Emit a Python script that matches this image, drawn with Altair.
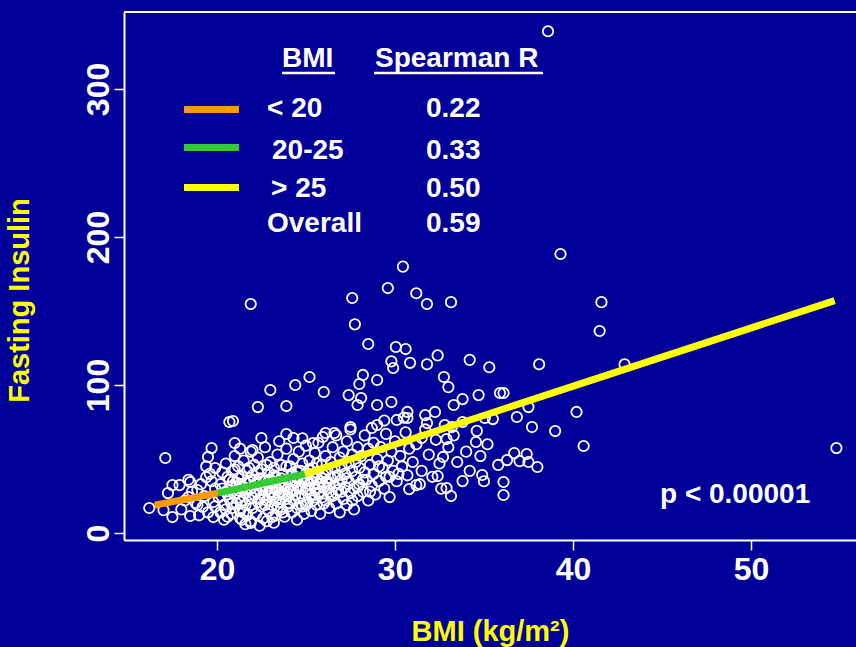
import altair as alt
import pandas as pd

# ---- data (BMI, fasting insulin) ----
outer_points = [
    (38.6, 339), (39.3, 188.5), (30.45, 180), (29.6, 165.5), (31.2, 162), (31.8, 154.7),
    (33.15, 156), (21.9, 154.7), (27.6, 158.8), (27.75, 141), (41.6, 156), (41.5, 136.5),
    (42.9, 114), (28.5, 127.7), (30.05, 125.7), (30.6, 124.3), (29.8, 116), (29.9, 111.5),
    (30.85, 115), (31.8, 114), (32.4, 120), (34.2, 117), (35.3, 112), (38.1, 114),
    (28.2, 106.8), (28.0, 100.7), (29.0, 103.4), (32.75, 105.4), (33.0, 98.6), (25.2, 105.4),
    (24.4, 100), (23.0, 96.6), (26.0, 95.3), (23.9, 85.8), (22.3, 85.1), (27.4, 93.2),
    (28.1, 91.2), (27.9, 86.5), (29.0, 86.5), (29.8, 88.5), (30.7, 81.8), (30.1, 76.4),
    (30.7, 77.7), (31.7, 79.7), (31.8, 74.3), (32.25, 81.8), (33.3, 86.5), (33.8, 90.5),
    (34.7, 93.2), (35.9, 94.6), (36.1, 94.6), (35.05, 77.7), (36.85, 78.4), (37.5, 85.1),
    (37.7, 71.6), (39.0, 68.9), (40.2, 81.8), (40.6, 58.8), (34.55, 61.5), (36.7, 54),
    (36.3, 49.3), (37.0, 48.6), (37.4, 53.4), (37.5, 48), (38.0, 44.6), (34.9, 39.2),
    (36.1, 34.5), (36.1, 25.7), (54.8, 57.4), (33.8, 35.1), (32.4, 38.5), (32.9, 30.4),
    (33.15, 25), (31.2, 32.4), (30.8, 29.7), (29.7, 24.3), (32.7, 51.4), (33.2, 71.6),
    (32.9, 63.5), (27.5, 71.6), (28.7, 71), (26.1, 67.6), (26.6, 67.6), (31.5, 64.2),
    (20.7, 75), (20.9, 75.7), (17.1, 50.7), (21.0, 60.8), (19.7, 57.4), (19.5, 51.4),
    (22.5, 64.2), (23.9, 66.9), (24.3, 64.2), (22.0, 56), (25.95, 64.9), (25.4, 60.8),
    (16.2, 16.9), (17.5, 10.8), (17.0, 15.5), (18.5, 11.5), (19.8, 10.8), (23.1, 10.8),
    (21.3, 10.1), (21.9, 6.8), (17.5, 32.4), (17.9, 32.4), (17.25, 27), (18.5, 34.5),
    (18.4, 24.3), (18.9, 29), (18.8, 20.3), (19.2, 17.6), (19.4, 37.8), (19.9, 43.9),
]

cluster_points = [
    (18.2, 22), (18.6, 28), (18.9, 19), (19.1, 33), (19.3, 25), (19.5, 14), (19.6, 40),
    (19.8, 21), (19.9, 30), (18.0, 16), (18.4, 36), (19.0, 12), (19.4, 45), (19.7, 35),
    (19.9, 18), (20.1, 24), (20.2, 33), (20.2, 14), (20.3, 41), (20.4, 19), (20.5, 28),
    (20.5, 47), (20.6, 11), (20.7, 23), (20.7, 36), (20.8, 31), (20.9, 17), (20.9, 42),
    (21.0, 26), (21.0, 52), (20.4, 9), (20.6, 38), (20.8, 13), (21.1, 20), (21.1, 34),
    (21.2, 29), (21.2, 45), (21.3, 15), (21.3, 24), (21.4, 38), (21.4, 9), (21.5, 31),
    (21.5, 49), (21.6, 19), (21.6, 27), (21.7, 42), (21.7, 12), (21.8, 35), (21.8, 23),
    (21.9, 30), (21.9, 55), (22.0, 17), (22.0, 39), (21.3, 57), (21.6, 6), (21.9, 8),
    (22.1, 26), (22.1, 46), (22.2, 33), (22.2, 13), (22.3, 21), (22.3, 51), (22.4, 29),
    (22.4, 37), (22.5, 18), (22.5, 43), (22.6, 25), (22.6, 10), (22.7, 35), (22.7, 58),
    (22.8, 22), (22.8, 30), (22.9, 41), (22.9, 15), (23.0, 27), (23.0, 48), (22.4, 5),
    (22.8, 8), (23.0, 36), (23.1, 19), (23.1, 33), (23.2, 44), (23.2, 24), (23.3, 12),
    (23.3, 38), (23.4, 29), (23.4, 53), (23.5, 21), (23.5, 34), (23.6, 16), (23.6, 46),
    (23.7, 27), (23.7, 40), (23.8, 31), (23.8, 11), (23.9, 23), (23.9, 57), (24.0, 36),
    (24.0, 18), (23.5, 62), (23.2, 7), (24.1, 28), (24.1, 45), (24.2, 14), (24.2, 33),
    (24.3, 22), (24.3, 50), (24.4, 38), (24.4, 26), (24.5, 17), (24.5, 42), (24.6, 31),
    (24.6, 55), (24.7, 20), (24.7, 36), (24.8, 47), (24.8, 25), (24.9, 13), (24.9, 34),
    (25.0, 29), (25.0, 59), (24.5, 9), (24.8, 64), (25.1, 21), (25.1, 40), (25.2, 33),
    (25.2, 49), (25.3, 26), (25.3, 15), (25.4, 44), (25.4, 37), (25.5, 30), (25.5, 54),
    (25.6, 19), (25.6, 41), (25.7, 27), (25.7, 61), (25.8, 35), (25.8, 13), (25.9, 46),
    (25.9, 24), (26.0, 39), (26.0, 31), (26.1, 52), (26.1, 22), (26.2, 35), (26.2, 43),
    (26.3, 28), (26.3, 17), (26.4, 48), (26.4, 37), (26.5, 58), (26.5, 25), (26.6, 32),
    (26.6, 44), (26.7, 20), (26.7, 66), (26.8, 39), (26.8, 29), (26.9, 51), (26.9, 14),
    (27.0, 36), (27.0, 45), (27.1, 23), (27.1, 55), (27.2, 40), (27.2, 31), (27.3, 62),
    (27.3, 19), (27.4, 47), (27.4, 35), (27.5, 27), (27.5, 70), (27.6, 42), (27.6, 53),
    (27.7, 30), (27.7, 16), (27.8, 48), (27.8, 38), (27.9, 58), (27.9, 25), (28.0, 44),
    (28.0, 33), (28.1, 52), (28.2, 28), (28.3, 41), (28.3, 66), (28.4, 36), (28.5, 22),
    (28.5, 57), (28.6, 46), (28.7, 32), (28.8, 61), (28.8, 40), (28.9, 26), (29.0, 50),
    (29.0, 73), (29.1, 35), (29.2, 58), (29.3, 44), (29.4, 30), (29.5, 67), (29.6, 49),
    (29.7, 38), (29.8, 55), (29.9, 42), (30.0, 62), (29.4, 76), (30.1, 35), (30.3, 52),
    (30.4, 45), (30.6, 68), (30.7, 39), (30.8, 57), (31.0, 48), (30.5, 78), (31.2, 60),
    (31.5, 42), (31.7, 70), (31.9, 53), (32.1, 38), (32.3, 63), (32.5, 47), (32.8, 73),
    (33.0, 58), (31.4, 33), (32.6, 30), (33.3, 66), (33.5, 48), (33.8, 75), (34.0, 55),
    (34.2, 42), (34.6, 69), (34.8, 52), (35.2, 60), (35.5, 77), (35.0, 35), (35.8, 46),
]

core_points = [
    (20.3, 30), (20.6, 26), (20.9, 35), (21.1, 27), (21.4, 22), (21.7, 30), (21.9, 19),
    (22.1, 36), (22.2, 28), (22.5, 32), (22.7, 19), (22.9, 35), (23.1, 28), (23.3, 31),
    (23.4, 17), (23.6, 37), (23.8, 26), (24.0, 30), (24.2, 40), (24.3, 29), (24.6, 24),
    (24.7, 42), (24.9, 38), (25.1, 30), (25.3, 35), (25.5, 24), (25.6, 37), (25.8, 28),
    (26.0, 20), (26.2, 30), (26.4, 26), (26.6, 38), (26.9, 33), (21.2, 37), (21.5, 14),
    (21.8, 44), (22.0, 24), (22.3, 41), (22.6, 37), (22.8, 46), (23.2, 39), (23.5, 26),
    (23.7, 14), (23.9, 45), (24.1, 20), (24.4, 34), (24.7, 30), (25.0, 19), (25.2, 43),
    (25.4, 22), (25.7, 33), (25.9, 37), (20.5, 16), (20.8, 20), (21.0, 43), (21.3, 33),
    (21.6, 34), (22.4, 23), (22.9, 25), (23.3, 22), (23.6, 32), (24.0, 25), (24.5, 37),
    (24.8, 18), (25.1, 36), (25.6, 47), (26.1, 41), (26.3, 33), (26.7, 27), (27.0, 28),
    (27.3, 37), (27.6, 22), (27.9, 31), (28.2, 36), (28.6, 28), (29.1, 45), (29.5, 38),
    (30.2, 40),
]

# fitted piecewise line (BMI groups)
fit_bmi = [16.5, 20.05, 20.05, 24.95, 24.95, 54.7]
fit_ins = [18.9, 27.0, 27.0, 39.9, 39.9, 157.0]
fit_group = ["< 20", "< 20", "20-25", "20-25", "> 25", "> 25"]
group_names = ["< 20", "20-25", "> 25"]
group_colors = ["#FF9900", "#33CC33", "#FFFF00"]
row_labels = ["< 20", "20-25", "> 25", "Overall"]
spearman_r = ["0.22", "0.33", "0.50", "0.59"]

x_ticks = [20, 30, 40, 50]
y_ticks = [0, 100, 200, 300]

BG = "#000099"
FONT = "Liberation Sans"
W, H = 732, 528

all_pts = outer_points + cluster_points + core_points
pts = pd.DataFrame(all_pts, columns=["bmi", "insulin"])
fit = pd.DataFrame({"bmi": fit_bmi, "insulin": fit_ins, "grp": fit_group,
                    "ord": list(range(len(fit_bmi)))})

xscale = alt.Scale(domain=[14.78, 55.9], nice=False, zero=False)
yscale = alt.Scale(domain=[-4.7, 352], nice=False, zero=False)

xaxis = alt.Axis(values=x_ticks, title="BMI (kg/m²)", grid=False,
                 tickSize=10, tickWidth=1.5, tickColor="white",
                 domainColor="white", domainWidth=2,
                 labelColor="white", labelFontSize=32, labelFontWeight="bold",
                 labelFont=FONT, labelPadding=4,
                 titleColor="#FFFF00", titleFontSize=29, titleFontWeight="bold",
                 titleFont=FONT, titleY=100, titleBaseline="alphabetic")
yaxis = alt.Axis(values=y_ticks, title="Fasting Insulin", grid=False,
                 tickSize=10, tickWidth=1.5, tickColor="white",
                 domainColor="white", domainWidth=2,
                 labelColor="white", labelFontSize=32, labelFontWeight="bold",
                 labelFont=FONT, labelPadding=6, labelAngle=270,
                 labelAlign="center", labelBaseline="alphabetic",
                 titleColor="#FFFF00", titleFontSize=29, titleFontWeight="bold",
                 titleFont=FONT, titleAngle=270, titleX=-96, titleY=288,
                 titleAlign="center", titleBaseline="alphabetic")

points = alt.Chart(pts).mark_point(
    shape="circle", filled=False, color="white", size=108, strokeWidth=1.8, opacity=1
).encode(
    x=alt.X("bmi:Q", scale=xscale, axis=xaxis),
    y=alt.Y("insulin:Q", scale=yscale, axis=yaxis),
)

lines = alt.Chart(fit).mark_line(strokeWidth=7, strokeCap="butt").encode(
    x=alt.X("bmi:Q", scale=xscale),
    y=alt.Y("insulin:Q", scale=yscale),
    color=alt.Color("grp:N", scale=alt.Scale(domain=group_names, range=group_colors), legend=None),
    order="ord:Q",
)

one = pd.DataFrame({"k": [0]})


def txt(s, x, y, size=28, color="white"):
    return alt.Chart(one).mark_text(
        text=s, align="left", baseline="alphabetic", font=FONT, fontSize=size,
        fontWeight="bold", color=color
    ).encode(x=alt.value(x), y=alt.value(y))


def hrule(x1, x2, y, color, width):
    return alt.Chart(one).mark_rule(color=color, strokeWidth=width, strokeCap="butt").encode(
        x=alt.value(x1), x2=alt.value(x2), y=alt.value(y)
    )


layers = [points, lines]
# top frame line
layers.append(hrule(0, W, 0, "white", 2))
# legend header
layers.append(txt("BMI", 158, 55))
layers.append(hrule(158, 211, 61, "white", 2.5))
layers.append(txt("Spearman R", 251, 55))
layers.append(hrule(250, 419, 61, "white", 2.5))
# legend rows
row_y = [105, 147, 185, 220]
row_x = [143, 148, 147, 143]
for i, lab in enumerate(row_labels):
    layers.append(txt(lab, row_x[i], row_y[i]))
    layers.append(txt(spearman_r[i], 302, row_y[i]))
line_y = [97.5, 135.5, 175.5]
for i, c in enumerate(group_colors):
    layers.append(hrule(60, 115, line_y[i], c, 7))
layers.append(txt("p < 0.00001", 536, 491))

chart = alt.layer(*layers).properties(
    width=W, height=H,
    background=BG,
    autosize=alt.AutoSizeParams(type="none"),
    padding={"left": 124, "top": 12, "right": 0, "bottom": 107},
).configure_view(stroke=None, fill=BG).configure(font=FONT)

chart.save("out.html", embed_options={"renderer": "svg", "actions": False})
